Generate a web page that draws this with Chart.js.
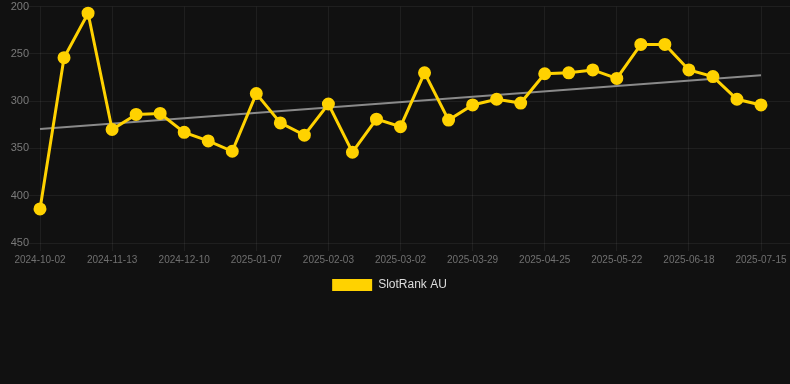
<!DOCTYPE html>
<html>
<head>
<meta charset="utf-8">
<script src="https://cdn.jsdelivr.net/npm/chart.js@4"></script>
<style>
html,body{margin:0;padding:0;background:#111111;}
#wrap{width:790px;height:301px;}
</style>
</head>
<body>
<div id="wrap"><canvas id="c" width="790" height="301"></canvas></div>
<script>
const dates = ["2024-10-02","2024-10-16","2024-10-30","2024-11-13","2024-11-22","2024-12-01","2024-12-10","2024-12-19","2024-12-28","2025-01-07","2025-01-16","2025-01-25","2025-02-03","2025-02-12","2025-02-21","2025-03-02","2025-03-11","2025-03-20","2025-03-29","2025-04-07","2025-04-16","2025-04-25","2025-05-04","2025-05-13","2025-05-22","2025-05-31","2025-06-09","2025-06-18","2025-06-27","2025-07-06","2025-07-15"];
const ranks = [414,254,207,330,314,313,333,342,353,292,323,336,303,354,319,327,270,320,304,298,302,271,270,267,276,240,240,267,274,298,304];
const trendStart = 329.5;
const trendEnd = 272.5;
const seriesName = "SlotRank AU";
const yTicks = [200,250,300,350,400,450];
const xTickEvery = 3;

const mainData = ranks.map((v,i)=>({x:i,y:v}));
const trendData = [{x:0,y:trendStart},{x:ranks.length-1,y:trendEnd}];
const FONT = 'Arial, "Liberation Sans", sans-serif';

const legendShift = {
  id: 'legendShift',
  afterLayout(chart) {
    if (chart.legend) { chart.legend.right -= 11; }
  }
};

new Chart(document.getElementById('c'), {
  type: 'line',
  plugins: [legendShift],
  data: {
    datasets: [
      {
        label: seriesName,
        data: mainData,
        borderColor: '#ffd200',
        backgroundColor: '#ffd200',
        borderWidth: 3,
        pointRadius: 5,
        pointHoverRadius: 5,
        pointBackgroundColor: '#ffd200',
        pointBorderColor: '#ffd200',
        tension: 0,
        clip: false,
        order: 1
      },
      {
        label: 'trend',
        data: trendData,
        borderColor: '#8a8a8a',
        borderWidth: 2,
        pointRadius: 0,
        fill: false,
        clip: false,
        order: 2
      }
    ]
  },
  options: {
    responsive: false,
    animation: false,
    devicePixelRatio: 1,
    layout: { autoPadding: false, padding: 0 },
    plugins: {
      legend: {
        position: 'bottom',
        labels: {
          color: '#dddddd',
          boxWidth: 40,
          boxHeight: 12,
          font: { family: FONT, size: 12 },
          filter: (item) => item.text === seriesName,
          generateLabels: (chart) => Chart.defaults.plugins.legend.labels.generateLabels(chart)
            .map(l => Object.assign(l, { lineWidth: 0, strokeStyle: 'rgba(0,0,0,0)' }))
        }
      },
      tooltip: { enabled: false }
    },
    scales: {
      x: {
        type: 'linear',
        min: 0,
        max: (ranks.length - 1) * 750 / 721,
        grid: { color: 'rgba(255,255,255,0.06)', tickLength: 8 },
        border: { display: false },
        afterBuildTicks: (s) => {
          const t = [];
          for (let i = 0; i < dates.length; i += xTickEvery) t.push({value: i});
          s.ticks = t;
        },
        ticks: {
          autoSkip: false,
          maxRotation: 0,
          color: '#707070',
          padding: 3,
          font: { family: FONT, size: 10 },
          callback: function(v) { return dates[v]; }
        }
      },
      y: {
        reverse: true,
        min: yTicks[0],
        max: yTicks[yTicks.length-1],
        grid: { color: 'rgba(255,255,255,0.06)', tickLength: 11 },
        border: { display: false },
        afterBuildTicks: (s) => { s.ticks = yTicks.map(v=>({value:v})); },
        afterFit: (s) => { s.width = 40; },
        ticks: {
          color: '#7a7a7a',
          padding: 0,
          font: { family: FONT, size: 11 }
        }
      }
    }
  }
});
</script>
</body>
</html>
